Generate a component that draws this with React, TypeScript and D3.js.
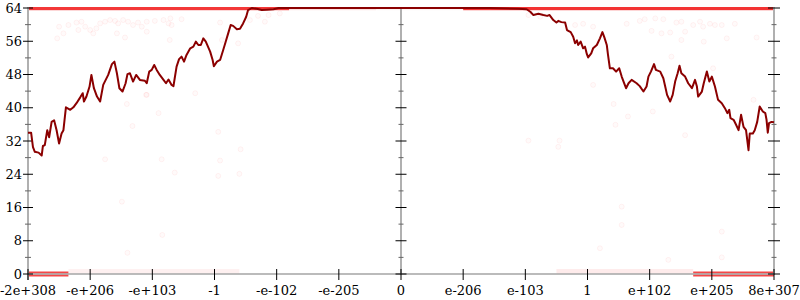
import React from "react";
import * as d3 from "d3";

const xTickLabels = ["-2e+308", "-e+206", "-e+103", "-1", "-e-102", "-e-205", "0", "e-206", "e-103", "1", "e+102", "e+205", "8e+307"];
const yMajorTicks = [0, 8, 16, 24, 32, 40, 48, 56, 64];
const yMinorTicks = [4, 12, 20, 28, 36, 44, 52, 60];

// line series: position (in tick units) and value
const linePos = [
  0, 0.05, 0.08, 0.11, 0.17, 0.22, 0.24, 0.27, 0.31, 0.34, 0.38, 0.42, 0.46, 0.5, 0.54, 0.57, 0.61, 0.68, 0.73, 0.78,
  0.84, 0.88, 0.9, 0.94, 0.99, 1.02, 1.06, 1.11, 1.16, 1.21, 1.29, 1.35, 1.39, 1.43, 1.47, 1.52, 1.57, 1.6, 1.64, 1.69,
  1.74, 1.8, 1.88, 1.91, 1.95, 1.99, 2.03, 2.07, 2.12, 2.18, 2.22, 2.26, 2.31, 2.34, 2.36, 2.39, 2.43, 2.47, 2.51, 2.55,
  2.61, 2.66, 2.7, 2.74, 2.78, 2.82, 2.86, 2.93, 2.97, 2.99, 3.04, 3.09, 3.14, 3.18, 3.22, 3.26, 3.3, 3.36, 3.41, 3.46,
  3.51, 3.54, 3.6, 3.68, 3.76, 3.84, 3.95, 4.03, 7.43, 7.89, 8.02, 8.08, 8.13, 8.21, 8.29, 8.35, 8.39, 8.45, 8.5, 8.53,
  8.58, 8.64, 8.67, 8.73, 8.77, 8.8, 8.83, 8.85, 8.89, 8.93, 8.96, 8.99, 9.01, 9.06, 9.09, 9.15, 9.2, 9.24, 9.27, 9.31,
  9.33, 9.36, 9.41, 9.46, 9.51, 9.55, 9.58, 9.62, 9.66, 9.71, 9.79, 9.84, 9.9, 9.95, 9.98, 10.02, 10.07, 10.1, 10.17, 10.22,
  10.25, 10.28, 10.33, 10.37, 10.41, 10.45, 10.48, 10.51, 10.57, 10.62, 10.68, 10.73, 10.76, 10.78, 10.84, 10.87, 10.92, 10.96, 11.0, 11.05,
  11.1, 11.16, 11.21, 11.25, 11.28, 11.3, 11.35, 11.39, 11.43, 11.47, 11.51, 11.55, 11.59, 11.61, 11.66, 11.69, 11.73, 11.77, 11.82, 11.86,
  11.88, 11.9, 11.92, 11.96, 12.0,
];
const lineVal = [
  34.0, 34.0, 30.5, 29.4, 29.2, 28.5, 30.8, 31.0, 34.6, 32.9, 36.6, 37.0, 34.6, 31.4, 33.8, 34.6, 40.1, 39.5, 40.1, 41.1,
  42.5, 43.5, 41.5, 42.7, 45.1, 47.9, 44.7, 42.7, 41.5, 45.5, 47.9, 50.5, 51.1, 48.3, 44.7, 43.9, 45.9, 48.1, 48.3, 46.3,
  47.9, 46.7, 46.5, 45.9, 48.7, 49.1, 50.3, 49.1, 47.9, 46.7, 45.9, 46.8, 45.5, 45.2, 47.1, 49.9, 51.7, 52.3, 51.1, 52.7,
  54.3, 54.7, 55.9, 55.1, 55.1, 56.7, 55.9, 53.5, 51.5, 50.0, 51.1, 51.5, 53.9, 55.9, 57.9, 59.9, 59.7, 58.9, 59.0, 60.3,
  61.9, 63.5, 64, 63.8, 63.5, 63.6, 63.7, 64, 64, 63.8, 63.7, 63.1, 62.3, 62.6, 62.3, 62.1, 62.3, 61.1, 60.5, 60.9,
  60.6, 60.5, 58.7, 58.2, 57.1, 55.5, 56.2, 55.1, 55.9, 54.3, 54.7, 52.9, 52.1, 53.1, 54.3, 55.1, 56.7, 58.2, 57.0, 55.1,
  52.7, 49.5, 49.5, 48.7, 49.5, 47.5, 46.3, 44.7, 45.9, 46.7, 45.9, 45.2, 43.9, 45.1, 47.5, 48.7, 50.5, 49.1, 48.7, 47.1,
  45.1, 43.1, 41.5, 43.1, 46.3, 48.3, 50.1, 48.3, 47.5, 45.9, 44.7, 46.7, 45.1, 42.7, 43.9, 45.9, 48.7, 46.3, 47.5, 45.1,
  41.9, 41.1, 39.9, 38.7, 39.5, 37.5, 37.1, 35.9, 34.6, 38.3, 35.4, 34.6, 29.8, 33.8, 33.8, 34.6, 36.6, 40.3, 39.1, 38.7,
  37.1, 34.0, 36.3, 36.6, 36.5,
];

// faint scattered samples
const dotPos = [
  0.5, 0.65, 0.78, 0.86, 0.92, 1.0, 1.1, 1.16, 1.24, 1.32, 1.4, 1.45, 1.53, 1.61, 1.69, 1.77, 1.83, 1.91, 2.04, 2.18,
  2.29, 2.31, 2.28, 0.57, 0.47, 0.81, 1.43, 1.56, 1.05, 1.91, 2.26, 2.47, 3.09, 3.38, 3.12, 3.57, 3.7, 3.81, 3.87, 4.05,
  1.91, 2.69, 8.05, 8.24, 8.8, 8.93, 9.09, 9.63, 9.84, 9.92, 10.09, 10.22, 10.03, 10.19, 10.33, 10.43, 10.51, 10.57, 10.51, 10.7,
  10.81, 10.86, 10.87, 10.97, 11.05, 11.16, 11.24, 11.37, 11.72, 10.35, 11.02, 11.67, 9.42, 9.09, 10.05, 9.65, 9.45, 10.57, 8.05, 8.55,
  8.53, 1.59, 1.9, 2.1, 1.68, 3.06, 3.42, 1.24, 2.15, 3.09, 2.36, 3.06, 3.4, 1.51, 2.16, 1.6, 9.55, 9.55, 11.16, 10.3,
  11.16, 9.2,
];
const dotVal = [
  59.5, 59.9, 60.5, 60.7, 59.5, 58.7, 59.1, 60.3, 60.7, 61.1, 60.9, 60.3, 61.1, 60.7, 59.9, 60.5, 59.5, 60.7, 60.9, 61.1,
  61.5, 59.9, 56.3, 57.9, 56.7, 58.7, 57.9, 56.9, 57.9, 58.3, 60.3, 61.3, 60.5, 55.5, 56.3, 61.1, 62.1, 60.7, 62.3, 62.7,
  43.1, 43.5, 62.3, 61.9, 59.9, 60.2, 59.5, 60.2, 60.9, 61.3, 61.5, 61.3, 58.5, 57.9, 58.1, 60.5, 60.7, 58.3, 56.3, 59.9,
  60.7, 59.5, 55.9, 60.2, 59.9, 59.9, 56.7, 60.2, 56.9, 52.3, 49.5, 41.9, 40.9, 45.5, 39.1, 37.9, 35.9, 33.4, 32.1, 32.1,
  30.6, 40.9, 43.1, 38.7, 35.6, 34.2, 30.0, 27.6, 27.6, 27.3, 24.4, 23.6, 24.1, 17.4, 9.4, 5.1, 16.2, 11.8, 10.2, 3.4,
  4.0, 6.2,
];

// dense bands of samples at the extremes: [from, to, value, opacity]
const bandFrom = [0, 4.2, 5.6, 7.0, 0, 0.65, 8.5, 10.7];
const bandTo = [4.2, 5.6, 7.0, 12, 0.65, 3.4, 10.7, 12];
const bandVal = [64, 64, 64, 64, 0, 0.6, 0.6, 0];
const bandOpacity = [0.78, 0.12, 0.04, 0.8, 0.72, 0.06, 0.08, 0.72];

export default function App() {
  const W = 800;
  const H = 300;
  const x = d3.scaleLinear().domain([0, 12]).range([28, 774]);
  const y = d3.scaleLinear().domain([0, 64]).range([274, 8]);
  const pts = linePos.map((p, i) => [p, lineVal[i]] as [number, number]);
  const line = d3
    .line<[number, number]>()
    .x((d) => x(d[0]))
    .y((d) => y(d[1]))
    .curve(d3.curveLinear);
  const font = "DejaVu Serif, serif";
  const axisColor = "#b0b0b0";
  const vAxes = [
    { pos: 0, maj: 5, min: 3 },
    { pos: 6, maj: 5.5, min: 2.5 },
    { pos: 12, maj: 6, min: 2.5 },
  ];
  return (
    <svg width={W} height={H} style={{ position: "absolute", left: 0, top: 0, background: "#fff" }}>
      {/* bands */}
      {bandFrom.map((f, i) => (
        <rect
          key={"b" + i}
          x={x(f)}
          y={y(bandVal[i]) - (bandVal[i] === 64 ? 1 : 2.5)}
          width={x(bandTo[i]) - x(f)}
          height={bandVal[i] === 64 ? 3.2 : 5}
          fill="#f00000"
          opacity={bandOpacity[i]}
        />
      ))}
      {/* faint dots */}
      {dotPos.map((p, i) => (
        <circle
          key={"d" + i}
          cx={x(p)}
          cy={y(dotVal[i])}
          r={2.5}
          fill="#ff0000"
          fillOpacity={0.02}
          stroke="#ff0000"
          strokeOpacity={0.05}
          strokeWidth={1}
        />
      ))}
      {/* axis lines */}
      <line x1={27} x2={775} y1={y(0)} y2={y(0)} stroke={axisColor} strokeWidth={2} opacity={0.85} />
      {vAxes.map((a) => (
        <line key={"va" + a.pos} x1={x(a.pos)} x2={x(a.pos)} y1={7} y2={a.pos === 0 ? 280 : 275} stroke={axisColor} strokeWidth={2} />
      ))}
      {/* y ticks */}
      {vAxes.map((a) => (
        <g key={"yt" + a.pos}>
          {yMajorTicks.map((t) => (
            <line key={"M" + t} x1={x(a.pos) - a.maj} x2={x(a.pos) + a.maj} y1={y(t)} y2={y(t)} stroke="#000" strokeWidth={1} />
          ))}
          {yMinorTicks.map((t) => (
            <line key={"m" + t} x1={x(a.pos) - a.min} x2={x(a.pos) + a.min} y1={y(t)} y2={y(t)} stroke="#666" strokeWidth={1} />
          ))}
        </g>
      ))}
      {yMajorTicks.map((t) => (
        <text key={"yl" + t} x={22} y={y(t) + 4.7} textAnchor="end" fontFamily={font} fontSize={13} fill="#000">
          {t}
        </text>
      ))}
      {/* x ticks */}
      {xTickLabels.map((l, i) => (
        <g key={"xt" + i}>
          <line x1={x(i)} x2={x(i)} y1={269} y2={280} stroke="#000" strokeWidth={1} />
          <text x={x(i)} y={295} textAnchor="middle" fontFamily={font} fontSize={13} fill="#000">
            {l}
          </text>
        </g>
      ))}
      {/* main line */}
      <path d={line(pts) || ""} fill="none" stroke="#8b0000" strokeWidth={2} strokeLinejoin="round" />
    </svg>
  );
}
